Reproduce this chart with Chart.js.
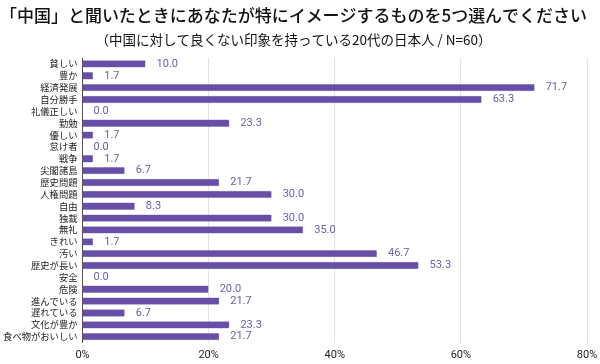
<!DOCTYPE html>
<html>
<head>
<meta charset="utf-8">
<script src="https://cdn.jsdelivr.net/npm/chart.js@4/dist/chart.umd.min.js"></script>
<style>
html,body{margin:0;padding:0;background:#fff;}
#wrap{width:600px;height:364px;}
</style>
</head>
<body>
<div id="wrap"><canvas id="c" width="600" height="364"></canvas></div>
<script>
const categories = ["貧しい","豊か","経済発展","自分勝手","礼儀正しい","勤勉","優しい","怠け者","戦争","尖閣諸島","歴史問題","人権問題","自由","独裁","無礼","きれい","汚い","歴史が長い","安全","危険","進んでいる","遅れている","文化が豊か","食べ物がおいしい"];
const values = [10.0,1.7,71.7,63.3,0.0,23.3,1.7,0.0,1.7,6.7,21.7,30.0,8.3,30.0,35.0,1.7,46.7,53.3,0.0,20.0,21.7,6.7,23.3,21.7];
const xTicks = [0,20,40,60,80];
const titleText = "「中国」と聞いたときにあなたが特にイメージするものを5つ選んでください";
const subtitleText = "（中国に対して良くない印象を持っている20代の日本人 / N=60）";

const labelPlugin = {
  id: 'valueLabels',
  afterDatasetsDraw(chart) {
    const ctx = chart.ctx;
    const meta = chart.getDatasetMeta(0);
    ctx.save();
    ctx.font = '11px Roboto, "Noto Sans", sans-serif';
    ctx.fillStyle = '#6f5aae';
    ctx.textAlign = 'left';
    ctx.textBaseline = 'middle';
    meta.data.forEach((bar, i) => {
      ctx.fillText(values[i].toFixed(1), bar.x + 11, bar.y);
    });
    ctx.restore();
  }
};

new Chart(document.getElementById('c'), {
  type: 'bar',
  data: {
    labels: categories,
    datasets: [{
      data: values,
      backgroundColor: '#674ea7',
      borderColor: '#8a75c0',
      borderWidth: 0.5,
      borderRadius: 1,
      barPercentage: 0.62,
      categoryPercentage: 1.0
    }]
  },
  options: {
    indexAxis: 'y',
    responsive: false,
    animation: false,
    maintainAspectRatio: false,
    layout: { padding: { left: 0, right: 13, top: 0, bottom: 0 } },
    plugins: {
      legend: { display: false },
      tooltip: { enabled: false },
      title: {
        display: true,
        text: titleText,
        color: '#111',
        font: { family: '"Noto Sans CJK JP", sans-serif', size: 17, weight: 500 },
        padding: { top: 5, bottom: 4 }
      },
      subtitle: {
        display: true,
        text: subtitleText,
        color: '#111',
        font: { family: '"Noto Sans CJK JP", sans-serif', size: 13.5, weight: 'normal' },
        padding: { top: 2.5, bottom: 9.9 }
      }
    },
    scales: {
      x: {
        min: 0, max: 80,
        afterBuildTicks(scale) { scale.ticks = xTicks.map(v => ({ value: v })); },
        afterFit(scale) { scale.height = 21.4; scale.paddingRight = 0; scale.paddingLeft = 0; },
        ticks: {
          callback: v => v + '%',
          color: '#222',
          font: { family: 'Roboto, sans-serif', size: 11 },
          padding: 6,
          maxRotation: 0
        },
        grid: { color: '#e3e3e3', lineWidth: 1, drawTicks: false },
        border: { display: false }
      },
      y: {
        afterFit(scale) { scale.width = 82.5; },
        ticks: {
          color: '#222',
          font: { family: '"Noto Sans CJK JP", sans-serif', size: 9.3 },
          padding: 5,
          autoSkip: false
        },
        grid: { display: false, drawTicks: false },
        border: { display: true, color: '#555', width: 1 }
      }
    }
  },
  plugins: [labelPlugin]
});
</script>
</body>
</html>
